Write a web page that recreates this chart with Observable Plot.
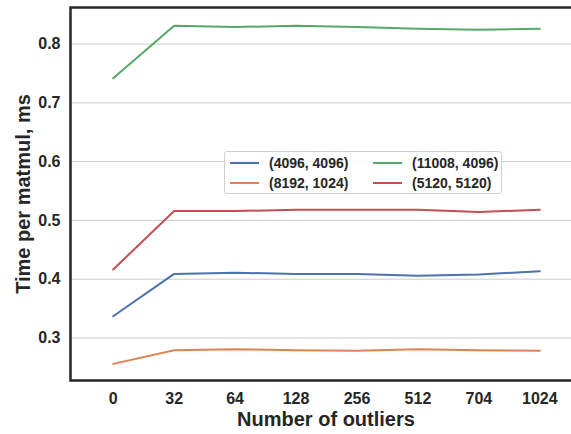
<!DOCTYPE html>
<html>
<head>
<meta charset="utf-8">
<script src="https://cdn.jsdelivr.net/npm/d3@7"></script>
<script src="https://cdn.jsdelivr.net/npm/@observablehq/plot@0.6"></script>
<style>
  html, body { margin: 0; padding: 0; background: #fff; overflow: hidden; }
  #wrap { position: relative; width: 571px; height: 434px; overflow: hidden; }
  #wrap svg { max-width: none !important; display: block; }
  .legend {
    position: absolute; left: 224px; top: 151px; width: 278px; height: 43px;
    border: 1px solid #d0d0d0; border-radius: 3px; background: rgba(255,255,255,0.9);
    font-family: "Liberation Sans", Arial, sans-serif; font-weight: bold; font-size: 14px; color: #262626;
    box-sizing: border-box;
  }
  .legend .item { position: absolute; display: flex; align-items: center; height: 16px; }
  .legend .sw { width: 29px; height: 0; border-top: 2px solid; margin-right: 10px; }
</style>
</head>
<body>
<div id="wrap"></div>
<script>
const outliers = ["0", "32", "64", "128", "256", "512", "704", "1024"];
const seriesNames = ["(4096, 4096)", "(8192, 1024)", "(11008, 4096)", "(5120, 5120)"];
const seriesColors = ["#4c72b0", "#dd8452", "#55a868", "#c44e52"];
const s4096x4096 = [0.337, 0.409, 0.411, 0.409, 0.409, 0.406, 0.408, 0.4135];
const s8192x1024 = [0.256, 0.279, 0.281, 0.279, 0.2785, 0.281, 0.279, 0.2785];
const s11008x4096 = [0.742, 0.831, 0.829, 0.831, 0.829, 0.826, 0.8245, 0.826];
const s5120x5120 = [0.4165, 0.516, 0.516, 0.518, 0.518, 0.518, 0.5145, 0.518];
const yTicks = [0.3, 0.4, 0.5, 0.6, 0.7, 0.8];

const allSeries = [s4096x4096, s8192x1024, s11008x4096, s5120x5120];
const rows = [];
allSeries.forEach((vals, si) => vals.forEach((v, i) => rows.push({x: outliers[i], y: v, s: seriesNames[si]})));

const font = "'Liberation Sans', Arial, sans-serif";
const chart = Plot.plot({
  width: 600, height: 434,
  marginLeft: 70, marginRight: 18, marginTop: 7, marginBottom: 54,
  style: {fontFamily: font, fontWeight: "bold", color: "#262626", background: "#fff", overflow: "visible", maxWidth: "none"},
  x: {type: "point", domain: outliers, padding: 0.7, round: false},
  y: {domain: [0.2277, 0.8622]},
  color: {domain: seriesNames, range: seriesColors},
  marks: [
    Plot.gridY(yTicks, {stroke: "#cccccc", strokeOpacity: 1, strokeWidth: 1}),
    Plot.line(rows, {x: "x", y: "y", z: "s", stroke: "s", strokeWidth: 2}),
    Plot.frame({stroke: "#262626", strokeWidth: 2.5}),
    Plot.axisY(yTicks, {tickSize: 0, tickPadding: 10, fontSize: 16, fontWeight: "bold", label: null, tickFormat: d => d.toFixed(1)}),
    Plot.axisX(outliers, {tickSize: 0, tickPadding: 12, fontSize: 16, fontWeight: "bold", label: null}),
    Plot.text(["Time per matmul, ms"], {frameAnchor: "left", textAnchor: "middle", lineAnchor: "middle", dx: -47, rotate: -90, fontSize: 20, fontWeight: "bold", text: d => d, fill: "#262626"}),
    Plot.text(["Number of outliers"], {frameAnchor: "bottom", textAnchor: "middle", lineAnchor: "middle", dy: 39, fontSize: 20, fontWeight: "bold", text: d => d, fill: "#262626", x: () => "256", dx: -31})
  ]
});
const wrap = document.getElementById("wrap");
wrap.appendChild(chart);

const legend = document.createElement("div");
legend.className = "legend";
const pos = [[5, 3], [5, 23], [148, 3], [148, 23]];
seriesNames.forEach((n, i) => {
  const it = document.createElement("div");
  it.className = "item";
  it.style.left = pos[i][0] + "px";
  it.style.top = pos[i][1] + "px";
  const sw = document.createElement("span");
  sw.className = "sw";
  sw.style.borderTopColor = seriesColors[i];
  const t = document.createElement("span");
  t.textContent = n;
  it.appendChild(sw); it.appendChild(t);
  legend.appendChild(it);
});
wrap.appendChild(legend);
</script>
</body>
</html>
